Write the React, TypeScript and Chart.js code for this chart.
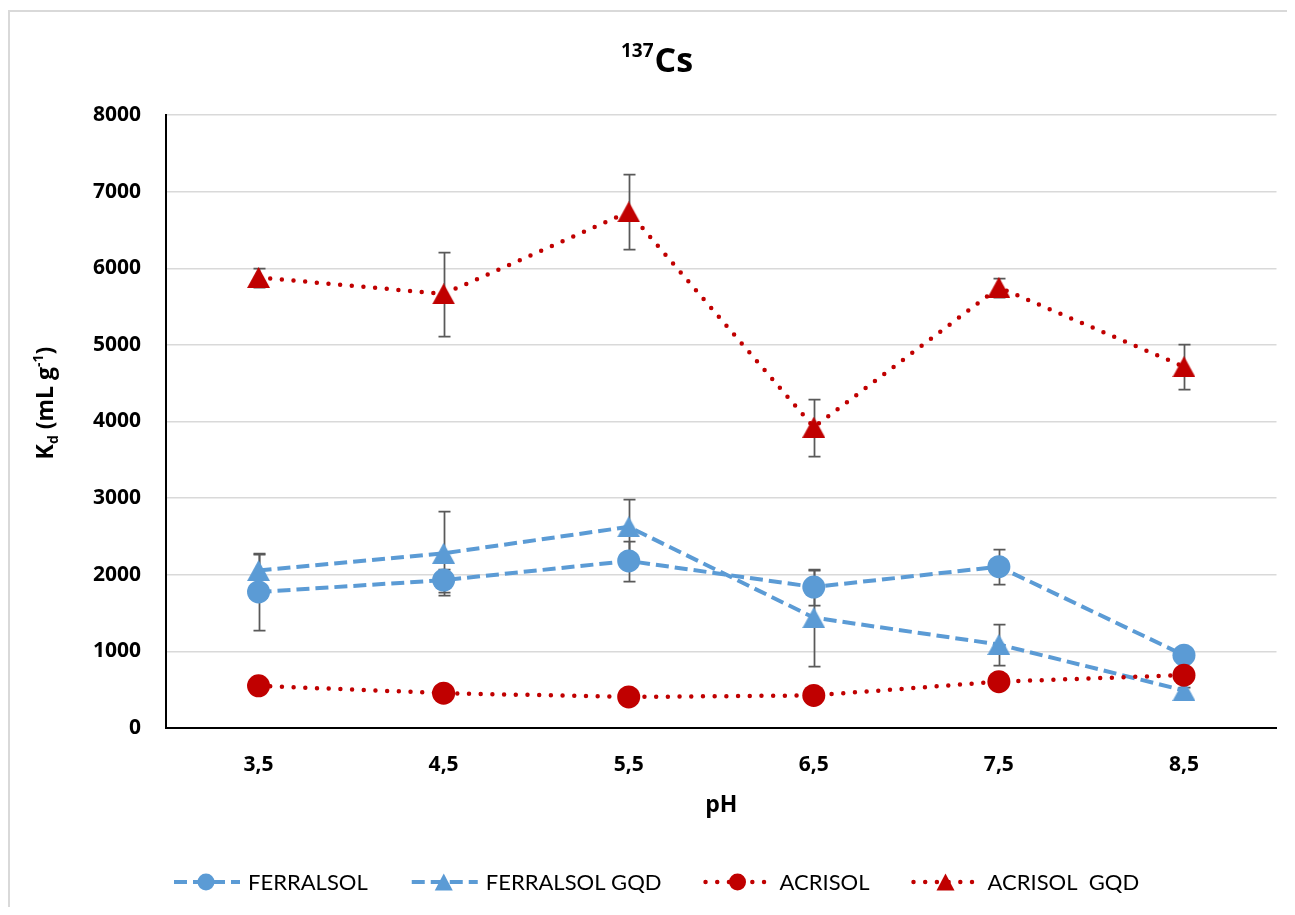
import React, { useEffect, useRef } from 'react';
import { Chart, registerables } from 'chart.js';

Chart.register(...registerables);

// ---- data ----
const categories = ['3,5', '4,5', '5,5', '6,5', '7,5', '8,5'];
const seriesNames = ['FERRALSOL', 'FERRALSOL GQD', 'ACRISOL', 'ACRISOL  GQD'];
const ferralsol = [1775, 1930, 2180, 1840, 2105, 950];
const ferralsolErr = [495, 150, 265, 230, 228, 40];
const ferralsolGqd = [2055, 2280, 2625, 1440, 1090, 490];
const ferralsolGqdErr = [225, 550, 370, 625, 263, 40];
const acrisol = [550, 455, 405, 425, 605, 690];
const acrisolErr = [40, 40, 40, 40, 40, 40];
const acrisolGqd = [5880, 5665, 6735, 3925, 5750, 4715];
const acrisolGqdErr = [120, 545, 490, 375, 125, 297];
const yMin = 0;
const yMax = 8000;
const yStep = 1000;

const BLUE = '#5B9BD5';
const RED = '#C00000';
const FONT = 'Lato, "Open Sans", sans-serif';
const BFONT = '"Open Sans", Lato, sans-serif';

function makeTriangle(color: string, w: number, h: number) {
  const c = document.createElement('canvas');
  c.width = w;
  c.height = h;
  const g = c.getContext('2d')!;
  g.fillStyle = color;
  g.beginPath();
  g.moveTo(w / 2, 0);
  g.lineTo(w, h);
  g.lineTo(0, h);
  g.closePath();
  g.fill();
  return c;
}

const errorBarPlugin = {
  id: 'errorBars',
  beforeDatasetsDraw(chart: any) {
    const ctx = chart.ctx;
    const ys = chart.scales.y;
    ctx.save();
    ctx.strokeStyle = '#595959';
    ctx.lineWidth = 1.75;
    ctx.setLineDash([]);
    chart.data.datasets.forEach((ds: any, i: number) => {
      const meta = chart.getDatasetMeta(i);
      const errs: number[] = ds.errors || [];
      meta.data.forEach((pt: any, j: number) => {
        const v = ds.data[j];
        const e = errs[j];
        if (!e) return;
        const top = Math.round(ys.getPixelForValue(v + e)) + 0.5;
        const bot = Math.round(ys.getPixelForValue(v - e)) + 0.5;
        const x = Math.round(pt.x) + 0.5;
        ctx.beginPath();
        ctx.moveTo(x, top);
        ctx.lineTo(x, bot);
        ctx.moveTo(x - 6, top);
        ctx.lineTo(x + 6, top);
        ctx.moveTo(x - 6, bot);
        ctx.lineTo(x + 6, bot);
        ctx.stroke();
      });
    });
    ctx.restore();
  },
};

const textPlugin = {
  id: 'texts',
  afterDraw(chart: any) {
    const ctx = chart.ctx;
    const area = chart.chartArea;
    ctx.save();
    ctx.fillStyle = '#000';
    ctx.textBaseline = 'alphabetic';
    ctx.textAlign = 'left';

    // Title 137Cs
    const supFont = `bold 19px ${BFONT}`;
    const mainFont = `bold 34px ${BFONT}`;
    ctx.font = supFont;
    const wSup = ctx.measureText('137').width;
    ctx.font = mainFont;
    const wMain = ctx.measureText('Cs').width;
    const tx = 647 - (wSup + wMain + 1) / 2;
    ctx.font = supFont;
    ctx.fillText('137', tx, 45);
    ctx.font = mainFont;
    ctx.fillText('Cs', tx + wSup + 1, 60);

    // X axis title
    ctx.font = `bold 23px ${BFONT}`;
    ctx.textAlign = 'center';
    ctx.textBaseline = 'middle';
    ctx.fillText('pH', (area.left + area.right) / 2, 793);

    // Y axis title: K_d (mL g^-1)
    ctx.save();
    ctx.translate(35, 391);
    ctx.rotate(-Math.PI / 2);
    ctx.textAlign = 'left';
    ctx.textBaseline = 'alphabetic';
    const big = `bold 23px ${BFONT}`;
    const small = `bold 14px ${BFONT}`;
    const pieces = [
      { t: 'K', f: big, dy: 0 },
      { t: 'd', f: small, dy: 5 },
      { t: ' (mL g', f: big, dy: 0 },
      { t: '-1', f: small, dy: -10 },
      { t: ')', f: big, dy: 0 },
    ];
    let total = 0;
    const widths = pieces.map((p) => {
      ctx.font = p.f;
      const w = ctx.measureText(p.t).width;
      total += w;
      return w;
    });
    let px = -total / 2;
    pieces.forEach((p, k) => {
      ctx.font = p.f;
      ctx.fillText(p.t, px, 8 + p.dy);
      px += widths[k];
    });
    ctx.restore();

    // Legend
    const ly = 870;
    let lx = 162;
    const sampleW = 68;
    const items = chart.data.datasets.map((ds: any) => ds);
    ctx.textAlign = 'left';
    ctx.textBaseline = 'middle';
    items.forEach((ds: any) => {
      ctx.save();
      ctx.strokeStyle = ds.borderColor;
      ctx.lineWidth = ds.borderWidth;
      ctx.lineCap = ds.borderCapStyle;
      ctx.setLineDash(ds.borderDash);
      ctx.beginPath();
      ctx.moveTo(lx + 2, ly);
      ctx.lineTo(lx + sampleW, ly);
      ctx.stroke();
      ctx.setLineDash([]);
      const cx = lx + sampleW / 2;
      ctx.fillStyle = ds.pointBackgroundColor;
      if (ds.legendShape === 'circle') {
        ctx.beginPath();
        ctx.arc(cx, ly, 8.5, 0, Math.PI * 2);
        ctx.fill();
      } else {
        ctx.beginPath();
        ctx.moveTo(cx, ly - 8.5);
        ctx.lineTo(cx + 9, ly + 8.5);
        ctx.lineTo(cx - 9, ly + 8.5);
        ctx.closePath();
        ctx.fill();
      }
      ctx.restore();
      ctx.fillStyle = '#000';
      ctx.font = `22px ${FONT}`;
      const tx2 = lx + sampleW + 8;
      ctx.fillText(ds.label, tx2, ly + 1);
      lx = tx2 + ctx.measureText(ds.label).width + 42;
    });

    ctx.restore();
  },
};

export default function App() {
  const ref = useRef<HTMLCanvasElement | null>(null);

  useEffect(() => {
    if (!ref.current) return;
    const triBlue = makeTriangle(BLUE, 23, 21);
    const triRed = makeTriangle(RED, 23, 21);
    const blueLine = { borderColor: BLUE, borderWidth: 4, borderDash: [13, 6], borderCapStyle: 'butt' };
    const redLine = { borderColor: RED, borderWidth: 4.5, borderDash: [0, 11.7], borderCapStyle: 'round' };

    const chart = new Chart(ref.current, {
      type: 'line',
      data: {
        labels: categories,
        datasets: [
          {
            label: seriesNames[0],
            data: ferralsol,
            errors: ferralsolErr,
            ...blueLine,
            pointStyle: 'circle',
            pointRadius: 11.5,
            pointBorderWidth: 0,
            pointBackgroundColor: BLUE,
            legendShape: 'circle',
            fill: false,
            tension: 0,
            order: 4,
          } as any,
          {
            label: seriesNames[1],
            data: ferralsolGqd,
            errors: ferralsolGqdErr,
            ...blueLine,
            pointStyle: triBlue,
            pointRadius: 11.5,
            pointBorderWidth: 0,
            pointBackgroundColor: BLUE,
            legendShape: 'triangle',
            fill: false,
            tension: 0,
            order: 3,
          } as any,
          {
            label: seriesNames[2],
            data: acrisol,
            errors: acrisolErr,
            ...redLine,
            pointStyle: 'circle',
            pointRadius: 11.5,
            pointBorderWidth: 0,
            pointBackgroundColor: RED,
            legendShape: 'circle',
            fill: false,
            tension: 0,
            order: 2,
          } as any,
          {
            label: seriesNames[3],
            data: acrisolGqd,
            errors: acrisolGqdErr,
            ...redLine,
            pointStyle: triRed,
            pointRadius: 11.5,
            pointBorderWidth: 0,
            pointBackgroundColor: RED,
            legendShape: 'triangle',
            fill: false,
            tension: 0,
            order: 1,
          } as any,
        ],
      },
      options: {
        responsive: false,
        animation: false,
        events: [],
        layout: { padding: { top: 103, right: 10, left: 0, bottom: 119 } },
        plugins: {
          legend: { display: false },
          title: { display: false },
          tooltip: { enabled: false },
        },
        scales: {
          x: {
            type: 'category',
            offset: true,
            grid: { display: false, drawTicks: false },
            border: { display: true, color: '#000', width: 2 },
            ticks: {
              color: '#000',
              padding: 24,
              font: { family: BFONT, size: 21, weight: 'bold' },
              maxRotation: 0,
            },
            afterFit: (s: any) => {
              s.height = 60;
            },
          },
          y: {
            min: yMin,
            max: yMax,
            grid: { color: '#D9D9D9', lineWidth: 1.5, drawTicks: false },
            border: { display: true, color: '#000', width: 2 },
            ticks: {
              stepSize: yStep,
              color: '#000',
              padding: 25,
              font: { family: BFONT, size: 21, weight: 'bold' },
              callback: (v: any) => String(v),
            },
            afterFit: (s: any) => {
              s.width = 156;
            },
          },
        },
      } as any,
      plugins: [errorBarPlugin, textPlugin],
    });
    return () => chart.destroy();
  }, []);

  return (
    <div
      style={{
        position: 'relative',
        marginTop: 2,
        width: 1282,
        height: 897,
        boxSizing: 'border-box',
        border: '2px solid #D9D9D9',
        borderBottom: 'none',
        background: '#fff',
      }}
    >
      <canvas
        ref={ref}
        width={1278}
        height={895}
        style={{ position: 'absolute', left: 0, top: 0, width: 1278, height: 895 }}
      />
    </div>
  );
}
